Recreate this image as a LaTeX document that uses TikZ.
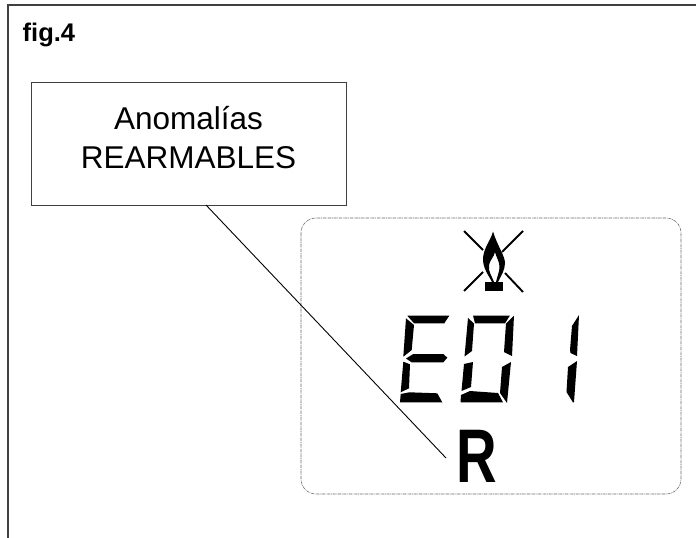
\documentclass[tikz,border=0pt]{standalone}
\usepackage{fontspec}
\setmainfont{Liberation Sans}
\begin{document}
\begin{tikzpicture}[x=1pt,y=-1pt,
  framestyle/.style={draw=black!75,line width=1.4pt},
  panelstyle/.style={draw=black!60,line width=0.55pt,dash pattern=on 3pt off 0.8pt on 0.8pt off 0.8pt,rounded corners=15pt},
  seg/.style={fill=black,draw=none},
  xline/.style={draw=black,line width=1.9pt},
  lead/.style={draw=black,line width=0.9pt},
  anchortext/.style={inner sep=0pt,anchor=base west}]
\useasboundingbox (0,0) rectangle (696,538);
\fill[white] (0,0) rectangle (696,538);
% outer frame
\draw[framestyle] (8,538) -- (8,5) -- (696,5);
\node[anchortext,font=\bfseries\fontsize{25.5}{30}\selectfont] (figlabel) at (22.5,41.7) {fig.4};
% panel
\draw[panelstyle] (301,218) rectangle (681,494);
% callout box
\node[framestyle,minimum width=315pt,minimum height=123pt,inner sep=0pt,anchor=north west] (callout) at (31,82) {};
\node[inner sep=0pt,anchor=base,font=\fontsize{31.5}{39}\selectfont] (t1) at (188.5,129) {Anomalías};
\node[inner sep=0pt,anchor=base,font=\fontsize{31.5}{39}\selectfont] (t2) at (188.5,168) {REARMABLES};
\coordinate (leadstart) at (206,205);
\coordinate (leadend) at (446,458);
\draw[lead] (leadstart) -- (leadend);
% R
\node[inner sep=0pt,anchor=base west,font=\bfseries\fontsize{76}{76}\selectfont,xscale=0.74] (rlabel) at (456.5,482) {R};
% flame icon
\draw[xline] (464,231) -- (483,250);
\draw[xline] (523,231) -- (502,252);
\draw[xline] (483,272) -- (464,291);
\draw[xline] (505,273) -- (523,292);
\fill[seg] (485.3,282) rectangle (503.3,291);
\fill[seg] (493,231.5) .. controls (491,240) and (484,247) .. (483,258)
  .. controls (482.5,268) and (489,276) .. (492,282) -- (494,282)
  .. controls (492,276) and (488,272) .. (489,265) .. controls (490,260) and (494,257) .. (495,252)
  .. controls (496,257) and (500,262) .. (499.5,268) .. controls (499,273) and (497,277) .. (496,282) -- (498,282)
  .. controls (501,276) and (505,270) .. (505,263) .. controls (505,256) and (497,245) .. (493,231.5) -- cycle;
% digit E
\fill[seg] (407.3,315.7) -- (449.3,315.7) -- (444.3,323.3) -- (414,323.3) -- cycle;
\fill[seg] (406,318.3) -- (414,325) -- (411.7,350) -- (403.3,356.7) -- cycle;
\fill[seg] (406,358.5) -- (413.3,354) -- (443.3,354) -- (447.3,357.7) -- (443.3,362.3) -- (411.7,362.3) -- cycle;
\fill[seg] (403.3,361.7) -- (410,364.3) -- (409,388.3) -- (400.7,392.3) -- cycle;
\fill[seg] (400.7,394) -- (409.3,392.3) -- (437.3,393.3) -- (442.3,402.3) -- (400,402.3) -- cycle;
% digit 0
\fill[seg] (473,315.5) -- (510,315.5) -- (505,323.3) -- (475,323.3) -- cycle;
\fill[seg] (468,318) -- (474,323.5) -- (472,351) -- (464.5,356.5) -- cycle;
\fill[seg] (514,315.5) -- (512,356) -- (504,352) -- (506,323.5) -- cycle;
\fill[seg] (464,364) -- (473,362) -- (471,387) -- (461.5,391) -- cycle;
\fill[seg] (511,362) -- (507,403) -- (500,393) -- (502,367) -- cycle;
\fill[seg] (470,391) -- (498,393) -- (503,402.3) -- (460.5,402.3) -- (461,395) -- cycle;
% digit 1
\fill[seg] (579,315) -- (577,356) -- (570.5,353) -- (570,350) -- (572,326) -- cycle;
\fill[seg] (577,361) -- (574,402) -- (573,402.5) -- (566.5,392) -- (568,367) -- cycle;
\end{tikzpicture}
\end{document}
